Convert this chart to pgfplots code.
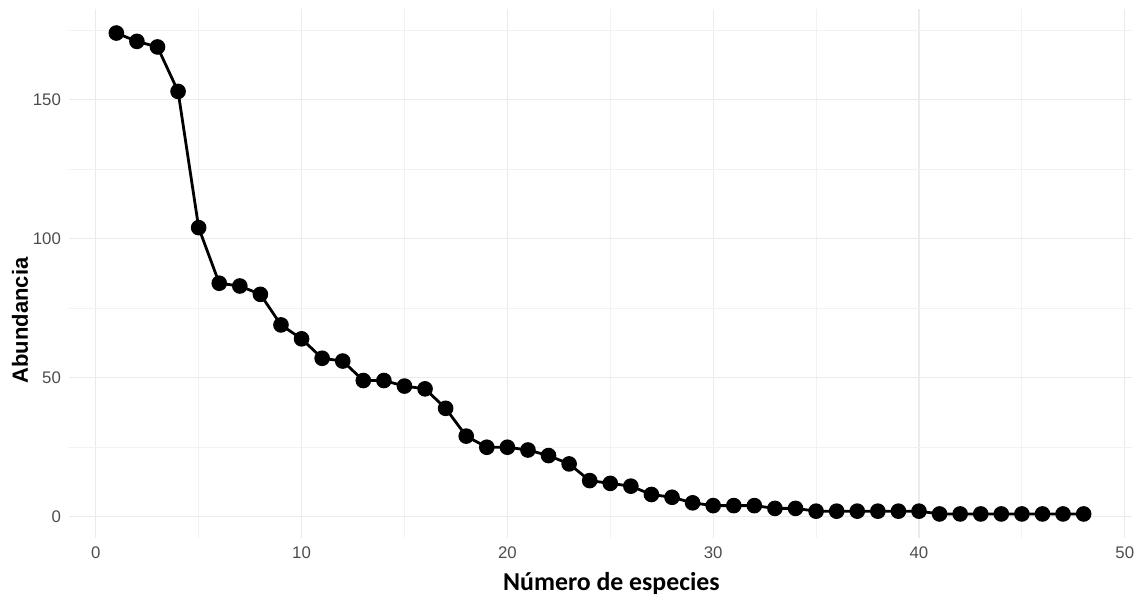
\documentclass[border=0pt]{standalone}
\usepackage{fontspec}
\setmainfont{Liberation Sans}
\newfontfamily\calibri{Carlito}
\usepackage{pgfplots}
\pgfplotsset{compat=1.18}
\definecolor{gridmaj}{HTML}{EBEBEB}
\definecolor{gridmin}{HTML}{F2F2F2}
\definecolor{ticktext}{HTML}{4D4D4D}
\begin{document}
\begin{tikzpicture}
\begin{axis}[
  scale only axis,
  width=531.5pt, height=264.5pt,
  xmin=-1.3, xmax=50.35, ymin=-7.65, ymax=182.65,
  axis line style={draw=none},
  major tick length=0pt, minor tick length=0pt,
  major tick style={draw=none}, minor tick style={draw=none},
  xtick={0,10,20,30,40,50}, ytick={0,50,100,150},
  minor xtick={5,15,25,35,45}, minor ytick={25,75,125,175},
  grid=both,
  major grid style={draw=gridmaj, line width=0.6pt},
  minor grid style={draw=gridmin, line width=0.45pt},
  /pgf/number format/assume math mode=true,
  tick label style={font=\fontsize{8.4}{10}\selectfont, text=ticktext},
  xticklabel style={yshift=-1pt},
  yticklabel style={xshift=-0.5pt},
  xlabel={\calibri\bfseries\fontsize{12.9}{15}\selectfont Número de especies},
  ylabel={\fontspec{Liberation Sans Bold}\fontsize{11}{13}\selectfont Abundancia},
  xlabel style={yshift=0pt, xshift=5.5pt},
  ylabel style={yshift=-4.5pt, xshift=-23.5pt},
  clip=false,
]
\addplot[black, line width=1.4pt, mark=*, mark size=3.2pt, mark options={fill=black}]
coordinates {
(1,174)(2,171)(3,169)(4,153)(5,104)(6,84)(7,83)(8,80)(9,69)(10,64)
(11,57)(12,56)(13,49)(14,49)(15,47)(16,46)(17,39)(18,29)(19,25)(20,25)
(21,24)(22,22)(23,19)(24,13)(25,12)(26,11)(27,8)(28,7)(29,5)(30,4)
(31,4)(32,4)(33,3)(34,3)(35,2)(36,2)(37,2)(38,2)(39,2)(40,2)
(41,1)(42,1)(43,1)(44,1)(45,1)(46,1)(47,1)(48,1)
};
\end{axis}
\pgfresetboundingbox
\path (current axis.south west) ++(-34.5pt,-30.5pt) coordinate (bl);
\path (current axis.north east) ++(1pt,4.5pt) coordinate (tr);
\path[use as bounding box] (bl) rectangle (tr);
\end{tikzpicture}
\end{document}
